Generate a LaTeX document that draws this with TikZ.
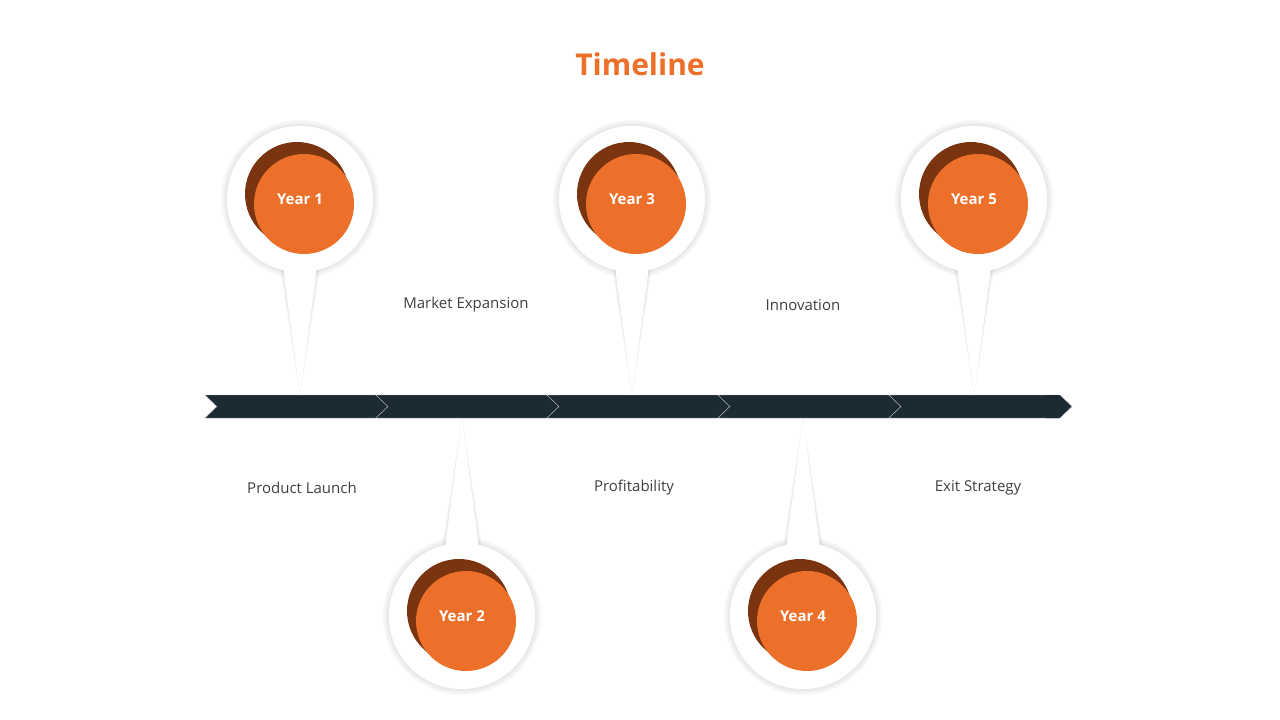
\documentclass[tikz,border=0pt]{standalone}
\usepackage{fontspec}
\setmainfont{Open Sans}
\definecolor{org}{HTML}{EC7029}
\definecolor{drk}{HTML}{7A3510}
\definecolor{bar}{HTML}{1B2A33}
\definecolor{txt}{HTML}{404040}
\begin{document}
\begin{tikzpicture}[x=1pt,y=-1pt,
  lbl/.style={font=\fontsize{15}{18}\selectfont,text=txt},
  yr/.style={font=\bfseries\fontsize{15}{18}\selectfont,text=white}]
\useasboundingbox (0,0) rectangle (1280,720);
\fill[white] (0,0) rectangle (1280,720);
\node[font=\bfseries\fontsize{30}{36}\selectfont,text=org] (title) at (640,64) {Timeline};
% bar
\foreach \i in {0,...,4}{
  \pgfmathsetmacro{\xa}{205+171*\i}
  \pgfmathsetmacro{\xb}{\xa+171}
  \fill[bar,draw=gray!60,line width=0.4pt] (\xa,395) -- (\xb,395) -- (\xb+12,406.5) -- (\xb,418) -- (\xa,418) -- (\xa+12,406.5) -- cycle;
}
\fill[bar] (1046,395) -- (1058,395) -- (1070,406.5) -- (1058,418) -- (1046,418) -- cycle;
% pins
\foreach \x/\y/\t/\n/\s in {300/199/395/1/1,632/199/395/3/1,974/199/395/5/1,462/616/418/2/-1,803/616/418/4/-1}{
  \begin{scope}
  \foreach \k in {6,4,2}{
    \fill[gray,opacity=0.06] (\x,\y) circle (73+\k);
    \fill[gray,opacity=0.06] (\x-17-\k*0.5,\y+\s*69) -- (\x,\t) -- (\x+17+\k*0.5,\y+\s*69) -- cycle;
  }
  \fill[white] (\x-17,\y+\s*68) -- (\x,\t) -- (\x+17,\y+\s*68) -- cycle;
  \fill[white] (\x,\y) circle (73);
  \fill[drk] (\x-3,\y-5) circle (52);
  \fill[org] (\x+4,\y+5) circle (50);
  \end{scope}
  \node[yr] (y\n) at (\x,\y) {Year \n};
}
\node[lbl] (l1) at (302,488) {Product Launch};
\node[lbl] (l2) at (466,305) {Market Expansion};
\node[lbl] (l3) at (634,488) {Profitability};
\node[lbl] (l4) at (803,305) {Innovation};
\node[lbl] (l5) at (978,488) {Exit Strategy};
\end{tikzpicture}
\end{document}
